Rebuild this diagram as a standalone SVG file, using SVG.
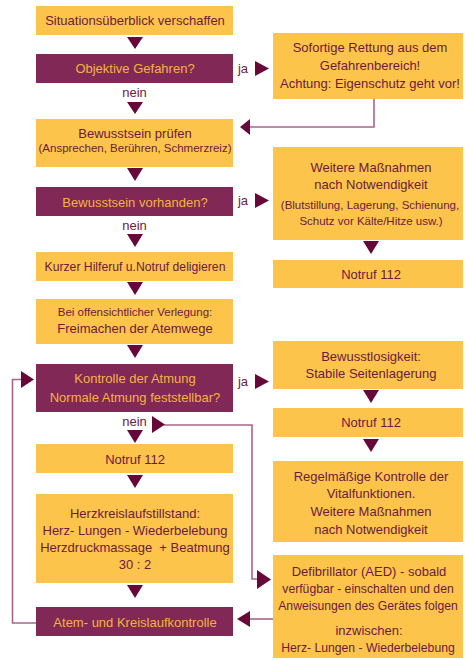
<svg xmlns="http://www.w3.org/2000/svg" width="465" height="660" viewBox="0 0 465 660">
<style>
.y{fill:#fcc44b}
.p{fill:#822856}
text{font-family:"Liberation Sans",Arial,sans-serif;font-size:13px;text-anchor:middle;fill:#6c1a40}
.pt{fill:#f4b43f}
.s{font-size:11.5px}
.m{font-size:12.2px}
.lbl{fill:#6c1a40}
.ah{fill:#66083a}
.ln{fill:none;stroke:#a8658a;stroke-width:1.6}
</style>
<rect width="465" height="660" fill="#ffffff"/>
<g id="n1"><rect class="y" x="36" y="6" width="197" height="29"/><text x="135" y="25">Situationsüberblick verschaffen</text></g>
<g id="n2"><rect class="p" x="36" y="54" width="197" height="29"/><text class="pt" x="135" y="73">Objektive Gefahren?</text></g>
<g id="n3"><rect class="y" x="36" y="119" width="197" height="48"/><text x="135" y="137.5">Bewusstsein prüfen</text><text class="s" x="135" y="152">(Ansprechen, Berühren, Schmerzreiz)</text></g>
<g id="n4"><rect class="p" x="36" y="187" width="197" height="29"/><text class="pt" x="135" y="206.5">Bewusstsein vorhanden?</text></g>
<g id="n5"><rect class="y" x="36" y="252" width="197" height="29"/><text class="m" x="135" y="271">Kurzer Hilferuf u.Notruf deligieren</text></g>
<g id="n6"><rect class="y" x="36" y="299" width="197" height="45"/><text class="s" x="135" y="316">Bei offensichtlicher Verlegung:</text><text x="135" y="332.5">Freimachen der Atemwege</text></g>
<g id="n7"><rect class="p" x="36" y="364" width="197" height="48"/><text class="pt" x="135" y="382.5">Kontrolle der Atmung</text><text class="pt" x="135" y="401.5">Normale Atmung feststellbar?</text></g>
<g id="n8"><rect class="y" x="36" y="444" width="197" height="29"/><text x="135" y="463.5">Notruf 112</text></g>
<g id="n9"><rect class="y" x="36" y="494" width="197" height="89"/><text x="135" y="517.5">Herzkreislaufstillstand:</text><text x="135" y="534.5">Herz- Lungen - Wiederbelebung</text><text x="135" y="551.5" xml:space="preserve">Herzdruckmassage  + Beatmung</text><text x="135" y="568.5">30 : 2</text></g>
<g id="n10"><rect class="p" x="36" y="607" width="197" height="29"/><text class="pt" x="135" y="626.5">Atem- und Kreislaufkontrolle</text></g>
<g id="nA"><rect class="y" x="273" y="33" width="190" height="66"/><text x="370" y="51.5">Sofortige Rettung aus dem</text><text x="370" y="69.5">Gefahrenbereich!</text><text x="370" y="87.5">Achtung: Eigenschutz geht vor!</text></g>
<g id="nB"><rect class="y" x="273" y="147" width="190" height="93"/><text x="371" y="171.5">Weitere Maßnahmen</text><text x="371" y="188.5">nach Notwendigkeit</text><text class="s" x="370" y="209">(Blutstillung, Lagerung, Schienung,</text><text class="s" x="371" y="225">Schutz vor Kälte/Hitze usw.)</text></g>
<g id="nC"><rect class="y" x="273" y="260" width="190" height="28"/><text x="371" y="278.5">Notruf 112</text></g>
<g id="nD"><rect class="y" x="273" y="341" width="190" height="48"/><text x="371" y="360.5">Bewusstlosigkeit:</text><text x="371" y="377.5">Stabile Seitenlagerung</text></g>
<g id="nE"><rect class="y" x="273" y="408" width="190" height="29"/><text x="371" y="426.5">Notruf 112</text></g>
<g id="nF"><rect class="y" x="273" y="461" width="190" height="81"/><text x="371" y="480.5">Regelmäßige Kontrolle der</text><text x="371" y="498">Vitalfunktionen.</text><text x="371" y="516">Weitere Maßnahmen</text><text x="371" y="533.5">nach Notwendigkeit</text></g>
<g id="nG"><rect class="y" x="273" y="555" width="190" height="103"/><text x="369" y="575.5">Defibrillator (AED) - sobald</text><text class="m" x="368" y="592.5">verfügbar - einschalten und den</text><text class="m" x="368" y="609.5">Anweisungen des Gerätes folgen</text><text x="369" y="634.5">inzwischen:</text><text class="m" x="368" y="651.5">Herz- Lungen - Wiederbelebung</text></g>
<g id="connectors">
<path class="ln" d="M374,99 V127 H249"/>
<path class="ln" d="M36,623 H12.5 V379.5 H22"/>
<path class="ln" d="M164,425 H252 V579 H258"/>
<path class="ln" d="M273,619 H249"/>
<g class="ah">
<polygon points="127,37 143,37 135,49"/>
<polygon points="127,102 143,102 135,114"/>
<polygon points="127,168 143,168 135,181"/>
<polygon points="127,234 143,234 135,247"/>
<polygon points="127,282 143,282 135,295"/>
<polygon points="127,345 143,345 135,358"/>
<polygon points="127,430 143,430 135,443"/>
<polygon points="127,475 143,475 135,488"/>
<polygon points="127,585 143,585 135,598"/>
<polygon points="363,241 379,241 371,254"/>
<polygon points="363,390 379,390 371,403"/>
<polygon points="363,439 379,439 371,452"/>
<polygon points="255,61 255,76 269,68.5"/>
<polygon points="255,193 255,208 269,200.5"/>
<polygon points="255,374 255,389 269,381.5"/>
<polygon points="250,119 250,135 240,127"/>
<polygon points="21,371 21,388 34,379.5"/>
<polygon points="152,416 152,433 165,424.5"/>
<polygon points="257,570 257,589 271,579.5"/>
<polygon points="250,611 250,627 237,619"/>
</g>
<g>
<text class="lbl" x="243" y="72.5">ja</text>
<text class="lbl" x="243" y="205">ja</text>
<text class="lbl" x="243" y="386">ja</text>
<text class="lbl" x="134.5" y="96.5">nein</text>
<text class="lbl" x="134.5" y="229.5">nein</text>
<text class="lbl" x="134.5" y="425.5">nein</text>
</g>
</g>
</svg>
